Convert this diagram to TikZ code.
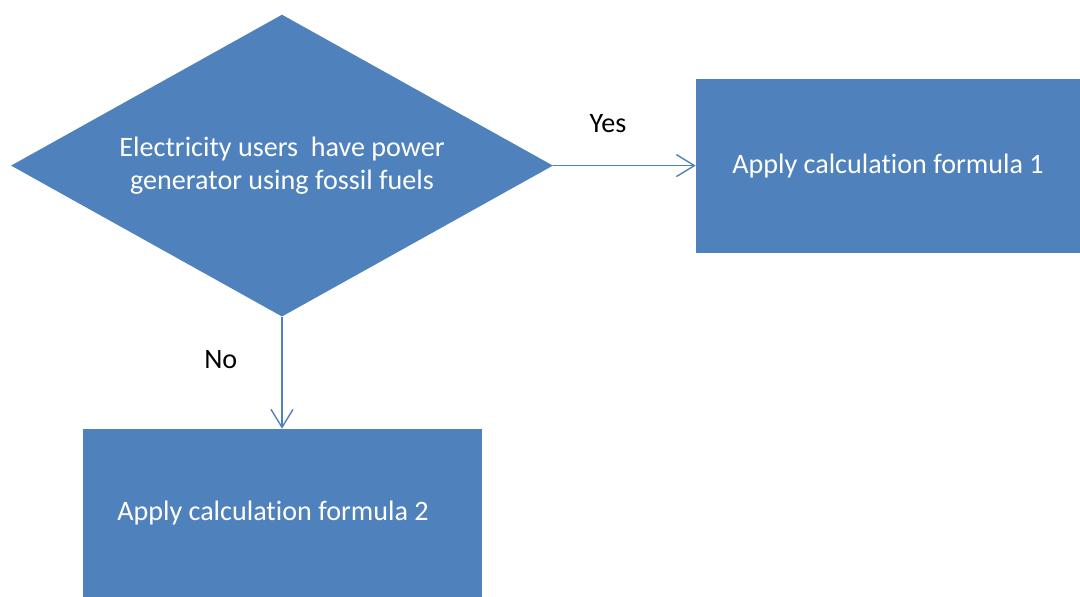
\documentclass[tikz,border=0pt]{standalone}
\usepackage{fontspec}
\setmainfont{Carlito}[Ligatures=NoCommon]
\usepackage{tikz}
\usetikzlibrary{shapes.geometric, arrows.meta}

\definecolor{boxblue}{HTML}{4F81BD}

\tikzset{
    flowbox/.style={rectangle, fill=boxblue, text=white, inner sep=0pt},
    decision/.style={diamond, fill=boxblue, text=white, inner sep=0pt, aspect=1.8, align=center},
    flowarrow/.style={-{Straight Barb[length=4.5mm, width=5.5mm]}, draw=boxblue, line width=1pt}
}

\begin{document}
\begin{tikzpicture}[font=\fontsize{20}{24}\selectfont]
    \useasboundingbox (0,0) rectangle (27,-14.9);

    % Decision
    \node[decision, minimum width=13.55cm, minimum height=7.55cm] (users) at (7.05,-4.14) {Electricity users\ \ have power\\generator using fossil\ fuels};

    % Outcomes
    \node[flowbox, minimum width=9.6cm, minimum height=4.35cm] (formulaA) at (22.2,-4.14) {Apply calculation formula\ 1};
    \node[flowbox, minimum width=9.975cm, minimum height=4.2cm] (formulaB) at (7.05,-12.825) {\hspace*{-4.5mm}Apply calculation formula\ 2};

    % Labels
    \node (yes) at (15.2,-3.1) {Yes};
    \node (no) at (5.52,-9.0) {No};

    % Arrows
    \draw[flowarrow] (users.east) -- (formulaA.west);
    \draw[flowarrow] (users.south) -- (formulaB.north);
\end{tikzpicture}
\end{document}
